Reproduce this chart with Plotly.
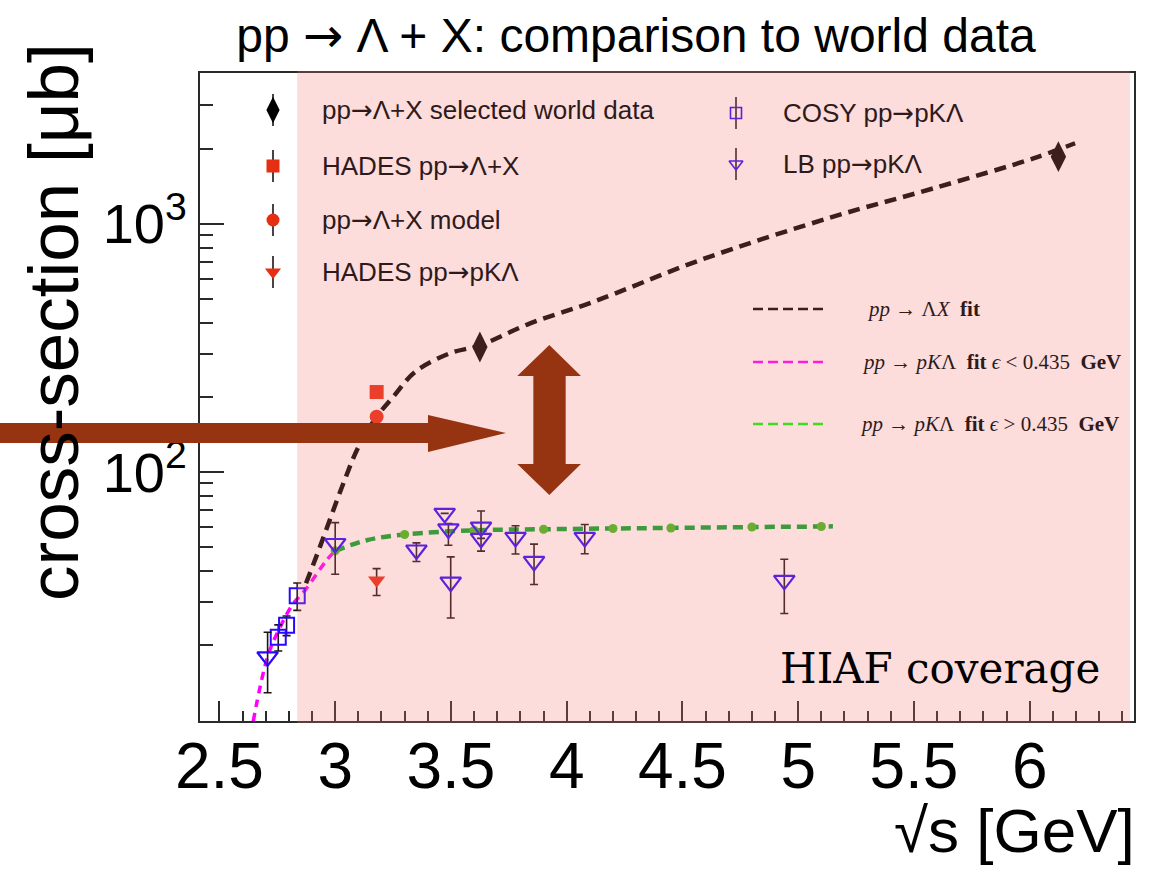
import plotly.graph_objects as go

# ---------------- data ----------------
# pp -> Lambda + X, selected world data
world_x = [3.625, 6.124]
world_y = [319.0, 1866.0]
world_err = [22.0, 110.0]

# HADES pp -> Lambda + X
hades_lx_x = [3.179]
hades_lx_y = [210.0]

# pp -> Lambda + X model
model_x = [3.179]
model_y = [167.0]

# HADES pp -> p K Lambda
hades_pkl_x = [3.179]
hades_pkl_y = [36.6]
hades_pkl_hi = [4.2]
hades_pkl_lo = [4.8]

# COSY pp -> p K Lambda
cosy_x = [2.754, 2.790, 2.836]
cosy_y = [21.6, 24.1, 31.7]
cosy_hi = [2.6, 2.2, 4.0]
cosy_lo = [2.6, 2.2, 4.0]

# LB pp -> p K Lambda
lb_x = [2.708, 3.000, 3.351, 3.473, 3.489, 3.499, 3.630, 3.630, 3.779, 3.859, 4.078, 4.940]
lb_y = [18.0, 51.5, 48.5, 68.1, 59.0, 36.0, 60.0, 54.0, 54.5, 43.6, 54.5, 36.6]
lb_hi = [4.6, 11.0, 3.3, 0.0, 3.0, 9.5, 9.6, 0.0, 6.2, 7.6, 6.9, 7.9]
lb_lo = [5.1, 12.8, 4.9, 0.0, 8.3, 10.2, 12.0, 0.0, 7.8, 8.4, 7.7, 9.7]

# fit: pp -> Lambda X
fit_lx_x = [2.874, 2.934, 3.035, 3.100, 3.179, 3.251, 3.345, 3.496, 3.625,
            3.842, 4.115, 4.576, 5.152, 5.584, 6.016, 6.196]
fit_lx_y = [35.6, 49.9, 89.9, 126.0, 167.0, 201.0, 253.0, 301.0, 324.0,
            397.0, 485.0, 714.0, 1069.0, 1390.0, 1836.0, 2113.0]

# fit: pp -> p K Lambda, eps < 0.435 GeV
fit_low_x = [2.646, 2.708, 2.762, 2.819, 2.870, 2.963, 2.995]
fit_low_y = [9.9, 18.0, 23.7, 29.5, 33.4, 44.1, 47.6]

# fit: pp -> p K Lambda, eps > 0.435 GeV
fit_high_x = [3.000, 3.136, 3.300, 3.600, 3.900, 4.200, 4.450, 4.800, 5.100, 5.150]
fit_high_y = [48.1, 53.1, 56.0, 58.2, 58.8, 59.2, 59.5, 60.0, 60.3, 60.4]
fit_high_pts_x = [3.0, 3.3, 3.6, 3.9, 4.2, 4.45, 4.8, 5.1]
fit_high_pts_y = [48.1, 56.0, 58.2, 58.8, 59.2, 59.5, 60.0, 60.3]

# HIAF energy coverage band
hiaf_lo, hiaf_hi = 2.836, 6.433

x_major = [2.5, 3.0, 3.5, 4.0, 4.5, 5.0, 5.5, 6.0]
x_major_text = ["2.5", "3", "3.5", "4", "4.5", "5", "5.5", "6"]
y_major = [100, 1000]
y_major_text = ["10<sup>2</sup>", "10<sup>3</sup>"]

# ---------------- layout geometry (pixels) ----------------
W, H = 1164, 872
L, R, T, B = 200, 1134, 73, 721


def px(xp):
    return (xp - L) / (R - L)


def py(yp):
    return (B - yp) / (B - T)


RED = "#e62e12"
VIOLET = "#2a08ff"
ERRC = "#1e1414"
ARROW = "#963411"
TXT_TINT = "#2e1a1a"

fig = go.Figure()

# fit curves
fig.add_trace(go.Scatter(x=fit_lx_x, y=fit_lx_y, mode="lines", line_shape="spline",
                         line=dict(color="#000000", width=4.5, dash="12px,7px")))
fig.add_trace(go.Scatter(x=fit_low_x, y=fit_low_y, mode="lines", line_shape="spline",
                         line=dict(color="#ff00ff", width=3.5, dash="8px,6px")))
fig.add_trace(go.Scatter(x=fit_high_x, y=fit_high_y, mode="lines", line_shape="spline",
                         line=dict(color="#00a82a", width=4.5, dash="10px,6px")))
fig.add_trace(go.Scatter(x=fit_high_pts_x, y=fit_high_pts_y, mode="markers",
                         marker=dict(color="#3cc01c", size=9, symbol="circle")))

# data points
err_style = dict(color=ERRC, thickness=1.6, width=4)
fig.add_trace(go.Scatter(x=cosy_x, y=cosy_y, mode="markers",
                         error_y=dict(type="data", symmetric=False, array=cosy_hi,
                                      arrayminus=cosy_lo, **err_style),
                         marker=dict(symbol="square-open", size=15, color=VIOLET,
                                     line=dict(width=2, color=VIOLET))))
fig.add_trace(go.Scatter(x=lb_x, y=lb_y, mode="markers",
                         error_y=dict(type="data", symmetric=False, array=lb_hi,
                                      arrayminus=lb_lo, **err_style),
                         marker=dict(symbol="triangle-down-open", size=18, color=VIOLET,
                                     line=dict(width=2.2, color=VIOLET))))
fig.add_trace(go.Scatter(x=hades_pkl_x, y=hades_pkl_y, mode="markers",
                         error_y=dict(type="data", symmetric=False, array=hades_pkl_hi,
                                      arrayminus=hades_pkl_lo, **err_style),
                         marker=dict(symbol="triangle-down", size=15, color=RED)))
fig.add_trace(go.Scatter(x=hades_lx_x, y=hades_lx_y, mode="markers",
                         marker=dict(symbol="square", size=14, color=RED)))
fig.add_trace(go.Scatter(x=model_x, y=model_y, mode="markers",
                         marker=dict(symbol="circle", size=14, color=RED)))
fig.add_trace(go.Scatter(x=world_x, y=world_y, mode="markers",
                         error_y=dict(type="data", array=world_err, color="#000", thickness=1.6, width=0),
                         marker=dict(symbol="diamond-tall", size=22, color="#000000")))

# legend glyphs on a helper unit axis
leg_err = dict(type="constant", value=16 / (B - T), color=ERRC, thickness=1.6, width=0)
left_glyphs = [("diamond-tall", "#000000", 110, 19),
               ("square", RED, 166, 13),
               ("circle", RED, 220, 13),
               ("triangle-down", RED, 272, 14)]
for sym, col, yp, sz in left_glyphs:
    fig.add_trace(go.Scatter(x=[px(273)], y=[py(yp)], xaxis="x2", yaxis="y2", mode="markers",
                             error_y=leg_err, marker=dict(symbol=sym, size=sz, color=col)))
for sym, yp, sz in [("square-open", 113, 11), ("triangle-down-open", 164, 12)]:
    fig.add_trace(go.Scatter(x=[px(736)], y=[py(yp)], xaxis="x2", yaxis="y2", mode="markers",
                             error_y=leg_err,
                             marker=dict(symbol=sym, size=sz, color=VIOLET,
                                         line=dict(width=1.6, color=VIOLET))))

shapes = []
# fit legend line samples
for col, yp in [("#000000", 309), ("#ff00ff", 362), ("#00ff00", 424)]:
    shapes.append(dict(type="line", xref="paper", yref="paper", x0=px(753), x1=px(823),
                       y0=py(yp), y1=py(yp), layer="below",
                       line=dict(color=col, width=2.5, dash="10px,5px")))
# semi-transparent coverage band
shapes.append(dict(type="rect", xref="x", yref="paper", x0=hiaf_lo, x1=hiaf_hi,
                   y0=-0.003, y1=1.003, layer="above", line=dict(width=0),
                   fillcolor="rgba(247,115,115,0.25)"))


def poly(pts):
    return "M " + " L ".join(f"{px(a):.4f},{py(b):.4f}" for a, b in pts) + " Z"


h_arrow = [(-5, 423), (428, 423), (428, 415), (506, 433), (428, 452), (428, 443), (-5, 443)]
v_arrow = [(549.3, 345), (581, 376), (565.7, 376), (565.7, 464), (581, 464), (549.3, 495),
           (517.3, 464), (533.3, 464), (533.3, 376), (517.3, 376)]
for p in (h_arrow, v_arrow):
    shapes.append(dict(type="path", xref="paper", yref="paper", path=poly(p), layer="above",
                       fillcolor=ARROW, line=dict(width=0)))

sans = "Liberation Sans, Arial, sans-serif"
serif = "Liberation Serif, Times New Roman, serif"
# full-width arrow glyph
ARW = "<span style='font-family:DejaVu Sans'>→</span>"

annotations = []
left_texts = [(f"pp{ARW}Λ+X selected world data", 110), (f"HADES pp{ARW}Λ+X", 166),
              (f"pp{ARW}Λ+X model", 220), (f"HADES pp{ARW}pKΛ", 272)]
for t, yp in left_texts:
    annotations.append(dict(text=t, x=px(320), y=py(yp), xref="paper", yref="paper",
                            xanchor="left", yanchor="middle", showarrow=False,
                            font=dict(family=sans, size=26, color=TXT_TINT)))
for t, yp in [(f"COSY pp{ARW}pKΛ", 113), (f"LB pp{ARW}pKΛ", 164)]:
    annotations.append(dict(text=t, x=px(781), y=py(yp), xref="paper", yref="paper",
                            xanchor="left", yanchor="middle", showarrow=False,
                            font=dict(family=sans, size=26, color=TXT_TINT)))
nb = "\u00a0"
fit_texts = [(f"<i>pp</i> → Λ<i>X</i>{nb}{nb}<b>fit</b>", 865, 309),
             (f"<i>pp</i> → <i>pK</i>Λ{nb}{nb}<b>fit</b> <i>ϵ</i> &lt; 0.435{nb}{nb}<b>GeV</b>", 860, 362),
             (f"<i>pp</i> → <i>pK</i>Λ{nb}{nb}<b>fit</b> <i>ϵ</i> &gt; 0.435{nb}{nb}<b>GeV</b>", 858, 424)]
for t, xp, yp in fit_texts:
    annotations.append(dict(text=t, x=px(xp), y=py(yp), xref="paper", yref="paper",
                            xanchor="left", yanchor="middle", showarrow=False,
                            font=dict(family=serif, size=21, color=TXT_TINT)))
annotations.append(dict(text="HIAF coverage", x=px(778), y=py(668), xref="paper", yref="paper",
                        xanchor="left", yanchor="middle", showarrow=False,
                        font=dict(family="DejaVu Serif, serif", size=42, color="#000000")))
annotations.append(dict(text="cross-section [μb]", x=px(53), y=py(322), xref="paper", yref="paper",
                        xanchor="center", yanchor="middle", textangle=-90, showarrow=False,
                        font=dict(family=sans, size=71, color="#000000")))
annotations.append(dict(text="√s [GeV]",
                        x=px(1137), y=py(830), xref="paper", yref="paper",
                        xanchor="right", yanchor="middle", showarrow=False,
                        font=dict(family=sans, size=62, color="#000000")))

axis_common = dict(showgrid=False, zeroline=False, showline=True, linecolor="#2a2a2a",
                   linewidth=2, mirror=True, ticks="inside", tickcolor="#2a2a2a",
                   tickwidth=1.6, automargin=False)

fig.update_layout(
    width=W, height=H,
    margin=dict(l=L, r=W - R, t=T, b=H - B),
    paper_bgcolor="white", plot_bgcolor="white",
    showlegend=False,
    title=dict(text=f"pp {ARW} Λ + X: comparison to world data", x=636 / W, xref="container",
               xanchor="center", y=1 - 35 / H, yref="container", yanchor="middle",
               font=dict(family=sans, size=48, color="#000000")),
    xaxis=dict(range=[2.416, 6.4506], tickmode="array", tickvals=x_major, ticktext=x_major_text,
               ticklen=20, ticklabelstandoff=-12,
               tickfont=dict(family=sans, size=64, color="#000000"),
               minor=dict(tickmode="array",
                          tickvals=[round(2.5 + 0.1 * i, 2) for i in range(40)
                                    if round((2.5 + 0.1 * i) * 2, 3) % 1 != 0],
                          ticks="inside", ticklen=10, tickwidth=1.6, tickcolor="#2a2a2a"),
               **axis_common),
    yaxis=dict(type="log", range=[0.9965, 3.608], tickmode="array", tickvals=y_major,
               ticktext=y_major_text, ticklen=24,
               tickfont=dict(family=sans, size=56, color="#000000"),
               minor=dict(tickmode="array",
                          tickvals=[20, 30, 40, 50, 60, 70, 80, 90, 200, 300, 400, 500, 600,
                                    700, 800, 900, 2000, 3000],
                          ticks="inside", ticklen=13, tickwidth=1.6, tickcolor="#2a2a2a"),
               **axis_common),
    xaxis2=dict(range=[0, 1], overlaying="x", anchor="y2", visible=False),
    yaxis2=dict(range=[0, 1], overlaying="y", anchor="x2", visible=False),
    shapes=shapes,
    annotations=annotations,
)

fig.write_html("out.html")
